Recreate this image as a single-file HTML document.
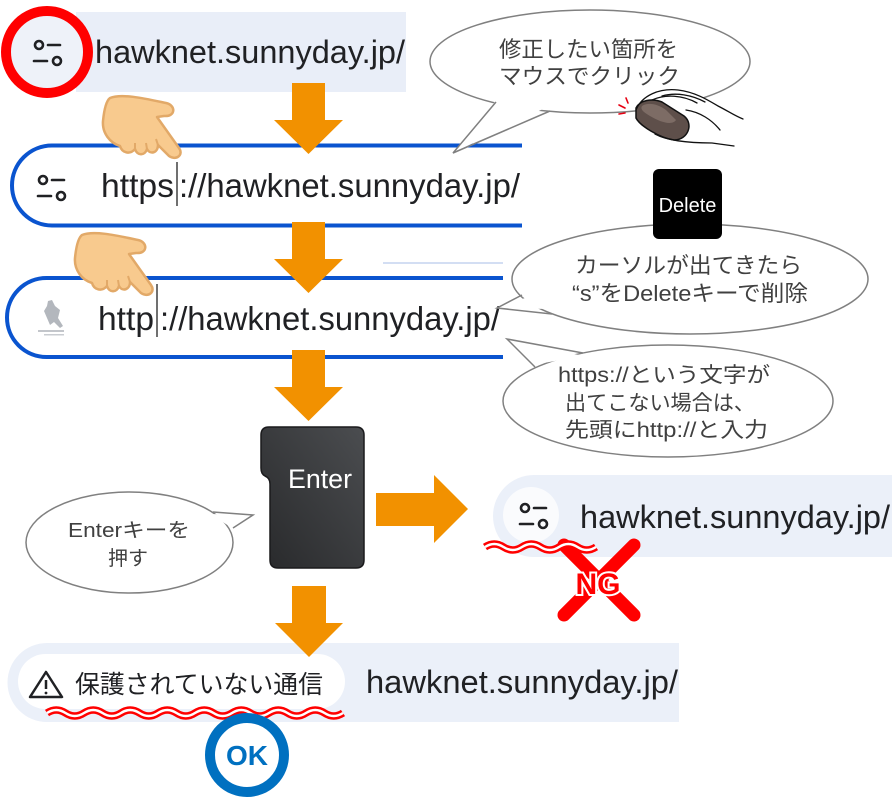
<!DOCTYPE html>
<html><head><meta charset="utf-8"><style>
html,body{margin:0;padding:0;background:#fff;}
svg{display:block;}
text{font-family:"Liberation Sans","Noto Sans CJK JP",sans-serif;}
.jp{font-family:"Liberation Sans","Noto Sans CJK JP",sans-serif;fill:#404040;}
</style></head><body>
<svg width="892" height="801" viewBox="0 0 892 801" xmlns="http://www.w3.org/2000/svg">
<defs>
<linearGradient id="kg" x1="1" y1="0" x2="0" y2="1">
<stop offset="0" stop-color="#4b4d50"/><stop offset="1" stop-color="#28292b"/>
</linearGradient>
<g id="ico" stroke="#202124" stroke-width="2.6" fill="none" stroke-linecap="round">
<circle cx="39" cy="45" r="4"/><line x1="48" y1="45" x2="60" y2="45"/><line x1="34" y1="61" x2="47" y2="61"/><circle cx="57" cy="61" r="4"/>
</g>
<g id="hand">
<path d="M8,5 C20,0 45,6 64,10 C74,12 74,24 62,23 L55,24 L77,55 C82,62 74,68 67,63 L56,52 C56,60 48,62 45,56 C43,63 35,63 33,56 C28,62 20,60 18,53 C8,50 0,40 1,28 C2,18 4,8 8,5 Z" fill="#f8ca8e" stroke="#e2a968" stroke-width="2.5" stroke-linejoin="round"/>
<path d="M45,56 L44,50 M33,56 L33,50 M56,52 L54,46" stroke="#e2a968" stroke-width="2" fill="none"/>
</g>
</defs>

<!-- top bar -->
<rect x="76" y="12" width="330" height="80" fill="#e9eef8"/>
<circle cx="47" cy="52" r="37" fill="#eef2f9"/>
<circle cx="47" cy="52" r="41" fill="none" stroke="#ff0000" stroke-width="10"/>
<use href="#ico"/>
<text x="95" y="63" font-size="32" fill="#202124" textLength="310" lengthAdjust="spacingAndGlyphs">hawknet.sunnyday.jp/</text>

<!-- bar 2 -->
<path d="M522,145.5 H52 A40,40 0 0 0 52,225.5 H522" fill="none" stroke="#0a54cf" stroke-width="4"/>
<use href="#ico" transform="translate(4,135)"/>
<text x="101" y="197" font-size="33" fill="#202124" textLength="73" lengthAdjust="spacingAndGlyphs">https</text>
<line x1="177" y1="162" x2="177" y2="206" stroke="#222" stroke-width="1.3"/>
<text x="179" y="197" font-size="33" fill="#202124" textLength="341" lengthAdjust="spacingAndGlyphs">://hawknet.sunnyday.jp/</text>

<line x1="383" y1="263" x2="503" y2="263" stroke="#d3def3" stroke-width="2"/>

<!-- bar 3 -->
<path d="M503,278 H46.5 A39.5,39.5 0 0 0 46.5,357 H503" fill="none" stroke="#0a54cf" stroke-width="4"/>
<g opacity="0.75">
<path d="M48,301 L52,300 L55,306 L60,310 L58,318 L63,326 L60,328 L54,322 L50,325 L47,318 L44,311 L47,306 Z" fill="#9aa0a8"/>
<rect x="38" y="330" width="26" height="2" fill="#b0b4ba"/>
<rect x="44" y="334" width="20" height="1.5" fill="#b8bcc2"/>
</g>
<text x="98" y="330" font-size="33" fill="#202124" textLength="56" lengthAdjust="spacingAndGlyphs">http</text>
<line x1="157" y1="284" x2="157" y2="337" stroke="#222" stroke-width="1.3"/>
<text x="160" y="330" font-size="33" fill="#202124" textLength="340" lengthAdjust="spacingAndGlyphs">://hawknet.sunnyday.jp/</text>

<!-- arrows -->
<g fill="#f29100">
<polygon points="292,83 325,83 325,120 343,120 308.5,154 274,120 292,120"/>
<polygon points="292,222 325,222 325,259 343,259 308.5,293 274,259 292,259"/>
<polygon points="292,350 325,350 325,387 343,387 308.5,421 274,387 292,387"/>
<polygon points="376,493 434,493 434,475 468,509 434,543 434,526 376,526"/>
</g>

<!-- hands -->
<use href="#hand" transform="translate(102,93)"/>
<use href="#hand" transform="translate(74,230)"/>

<!-- bubble 1 -->
<ellipse cx="590" cy="61.5" rx="160" ry="51.5" fill="#fff" stroke="#808080" stroke-width="1.5"/>
<polygon points="498,98 453,153 549,106" fill="#fff"/>
<polyline points="496,102 453,153 550,111" fill="none" stroke="#808080" stroke-width="1.5" stroke-linejoin="miter"/>
<text class="jp" x="499" y="57" font-size="22" textLength="179" lengthAdjust="spacingAndGlyphs">修正したい箇所を</text>
<text class="jp" x="499" y="84" font-size="22" textLength="181" lengthAdjust="spacingAndGlyphs">マウスでクリック</text>

<!-- mouse + hand -->
<path d="M636,110 C642,95 660,88 678,90 C695,92 708,100 718,106 C728,111 735,116 743,119 L743,146 L734,146 L712,143 C690,143 668,141 652,132 Z" fill="#fff"/>
<path d="M636,108 C640,100 652,98 662,102 L684,116 C694,124 688,140 674,140 C660,138 640,126 636,118 Z" fill="#5e4f4a" stroke="#111" stroke-width="1.5"/>
<path d="M642,106 C648,102 658,104 666,110 L676,120 C672,126 660,122 650,116 C643,112 640,109 642,106 Z" fill="#7d6c65"/>
<g fill="none" stroke="#111" stroke-width="1.3" stroke-linecap="round">
<path d="M636,110 C642,95 660,88 678,90 C695,92 708,100 718,106 C728,111 735,116 743,119"/>
<path d="M655,134 C668,141 690,143 712,143 L734,146"/>
<path d="M652,100 C665,94 683,95 697,103"/>
<path d="M662,96 C676,92 692,95 705,102"/>
<path d="M686,110 C700,112 712,120 720,130"/>
</g>
<g stroke="#e60012" stroke-width="1.6" stroke-linecap="round">
<line x1="626" y1="98" x2="628" y2="103"/>
<line x1="619" y1="105" x2="625" y2="108"/>
<line x1="619" y1="114" x2="625" y2="113"/>
</g>

<!-- bubble 2 -->
<ellipse cx="690" cy="279" rx="178" ry="55" fill="#fff" stroke="#808080" stroke-width="1.5"/>
<polygon points="525,298 497,308 550,309" fill="#fff"/>
<polyline points="522,295 497,308 552,314" fill="none" stroke="#808080" stroke-width="1.5"/>
<text class="jp" x="575" y="273" font-size="22" textLength="227" lengthAdjust="spacingAndGlyphs">カーソルが出てきたら</text>
<text class="jp" x="572" y="301" font-size="22" textLength="236" lengthAdjust="spacingAndGlyphs">“s”をDeleteキーで削除</text>

<!-- delete key -->
<rect x="653" y="169" width="69" height="70" rx="6" fill="#000"/>
<text x="687.5" y="212" font-size="20" fill="#fff" text-anchor="middle">Delete</text>

<!-- bubble 3 -->
<ellipse cx="668" cy="401" rx="165" ry="56" fill="#fff" stroke="#808080" stroke-width="1.5"/>
<polygon points="507,339 583,356 538,364" fill="#fff"/>
<polyline points="583,353 507,339 535,367" fill="none" stroke="#808080" stroke-width="1.5"/>
<text class="jp" x="558" y="382" font-size="21" textLength="212" lengthAdjust="spacingAndGlyphs">https://という文字が</text>
<text class="jp" x="565" y="410" font-size="21" textLength="190" lengthAdjust="spacingAndGlyphs">出てこない場合は、</text>
<text class="jp" x="565" y="437" font-size="21" textLength="203" lengthAdjust="spacingAndGlyphs">先頭にhttp://と入力</text>

<!-- enter key -->
<path d="M269,427 L356,427 Q364,427 364,435 L364,560 Q364,568 356,568 L278,568 Q270,568 270,560 L270,484 Q270,478 265,476 Q261,474 261,468 L261,435 Q261,427 269,427 Z" fill="url(#kg)" stroke="#1a1a1c" stroke-width="1.5"/>
<text x="288" y="488" font-size="27" fill="#fff" textLength="64" lengthAdjust="spacingAndGlyphs">Enter</text>

<!-- enter bubble -->
<ellipse cx="129.5" cy="542.5" rx="103.5" ry="50.5" fill="#fff" stroke="#808080" stroke-width="1.5"/>
<polygon points="210,514 253,515 229,526" fill="#fff"/>
<polyline points="213,512 253,515 233,528" fill="none" stroke="#808080" stroke-width="1.5"/>
<text class="jp" x="68" y="537" font-size="20" textLength="122" lengthAdjust="spacingAndGlyphs">Enterキーを</text>
<text class="jp" x="108" y="565" font-size="20" textLength="40" lengthAdjust="spacingAndGlyphs">押す</text>

<!-- NG bar -->
<path d="M892,475 H534 A41,41 0 0 0 534,557 H892 Z" fill="#ebf0f9"/>
<circle cx="531" cy="515" r="28" fill="#fafbfd"/>
<use href="#ico" transform="translate(486,463)"/>
<text x="580" y="528" font-size="32" fill="#202124" textLength="310" lengthAdjust="spacingAndGlyphs">hawknet.sunnyday.jp/</text>
<g stroke="#ff0000" stroke-width="13" stroke-linecap="round">
<line x1="564" y1="545" x2="634" y2="615"/>
<line x1="634" y1="545" x2="564" y2="615"/>
</g>
<path d="M485,547 Q494.25,541 503.5,547 T522,547 T540.5,547 T559,547 T577.5,547 T596,547" fill="none" stroke="#ff0000" stroke-width="7.5"/>
<path d="M485,547 Q494.25,541 503.5,547 T522,547 T540.5,547 T559,547 T577.5,547 T596,547" fill="none" stroke="#fff" stroke-width="2.5"/>
<text x="598" y="594" font-size="30" font-weight="bold" fill="#ff0000" stroke="#fff" stroke-width="4" paint-order="stroke" text-anchor="middle">NG</text>

<!-- bottom bar -->
<path d="M679,643 H47 A39.5,39.5 0 0 0 47,722 H679 Z" fill="#ebf0f9"/>
<rect x="18" y="654" width="327" height="55" rx="27.5" fill="#fff"/>
<g>
<path d="M46,672 L62,697 L30,697 Z" fill="none" stroke="#202124" stroke-width="2.5" stroke-linejoin="round"/>
<line x1="46" y1="680" x2="46" y2="689" stroke="#202124" stroke-width="2.5"/>
<circle cx="46" cy="693" r="1.4" fill="#202124"/>
</g>
<text x="75" y="693" font-size="25" fill="#202124" textLength="248" lengthAdjust="spacingAndGlyphs">保護されていない通信</text>
<text x="366" y="693" font-size="32" fill="#202124" textLength="312" lengthAdjust="spacingAndGlyphs">hawknet.sunnyday.jp/</text>
<path d="M47,713 Q56.25,707 65.5,713 T84,713 T102.5,713 T121,713 T139.5,713 T158,713 T176.5,713 T195,713 T213.5,713 T232,713 T250.5,713 T269,713 T287.5,713 T306,713 T324.5,713 T343,713" fill="none" stroke="#ff0000" stroke-width="7.5"/>
<path d="M47,713 Q56.25,707 65.5,713 T84,713 T102.5,713 T121,713 T139.5,713 T158,713 T176.5,713 T195,713 T213.5,713 T232,713 T250.5,713 T269,713 T287.5,713 T306,713 T324.5,713 T343,713" fill="none" stroke="#fff" stroke-width="2.5"/>

<!-- arrow 4 on top of bottom bar -->
<polygon points="292,586 326,586 326,623 343,623 309,657 275,623 292,623" fill="#f29100"/>

<!-- OK -->
<circle cx="247" cy="755" r="37" fill="#fff" stroke="#0070c0" stroke-width="10"/>
<text x="247" y="765" font-size="28" font-weight="bold" fill="#0070c0" text-anchor="middle">OK</text>
</svg>
</body></html>
